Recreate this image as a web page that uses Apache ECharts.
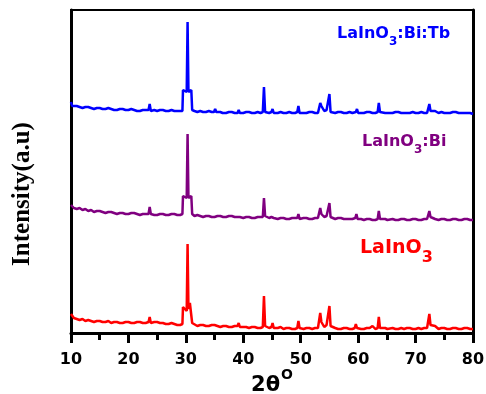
<!DOCTYPE html>
<html>
<head>
<meta charset="utf-8">
<script src="https://cdn.jsdelivr.net/npm/echarts@6/dist/echarts.min.js"></script>
<style>
  html, body { margin: 0; padding: 0; background: #fff; }
  #chart { width: 486px; height: 394px; }
</style>
</head>
<body>
<div id="chart"></div>
<script>
// 2θ tick labels
var xTicks = [10, 20, 30, 40, 50, 60, 70, 80]

// XRD patterns, [2θ, intensity a.u.]
var laino3 = [[10.0,15],[10.2,13],[10.5,11],[11,10],[11.5,9],[12,10],[12.5,8],[13,9],[13.5,8],[14,7],[14.5,8],[15,8],[15.5,7],[16,7],[16.5,8],[17,6],[17.5,7],[18,7],[18.5,6],[19,6],[19.5,7],[20,7],[20.5,6],[21,6],[21.5,7],[22,7],[22.5,6],[23,6],[23.5,7],[23.7,12],[23.9,6],[24.5,7],[25,7],[25.5,6],[26,6],[26.5,5],[27,5],[27.5,6],[28,5],[28.5,4],[29,4],[29.4,5],[29.5,22],[29.8,20],[30.15,18],[30.3,85],[30.45,20],[30.7,26],[30.95,24],[31.1,6],[31.4,4],[32,3],[32.5,4],[33,4],[33.5,3],[34,3],[34.5,4],[35,4],[35.5,3],[36,2],[36.5,3],[37,3],[37.5,2],[38,2],[38.5,3],[39,3],[39.2,6],[39.4,2],[40,2],[40.5,2],[41,1],[41.5,2],[42,2],[42.5,1],[43,1],[43.4,2],[43.6,33],[43.8,3],[44.5,1],[44.9,2],[45.1,6],[45.3,1],[46,1],[46.5,2],[47,0],[47.5,1],[48,1],[48.5,0],[49,0],[49.4,1],[49.6,8],[49.8,1],[50.5,0],[51,1],[51.5,1],[52,0],[52.5,1],[53,1],[53.2,2],[53.4,16],[53.6,7],[53.8,9],[54.1,2],[54.5,4],[54.8,5],[55.0,23],[55.2,3],[56,1],[56.5,0],[57,0],[57.5,1],[58,1],[58.5,0],[59,0],[59.4,1],[59.6,5],[59.8,1],[60.5,0],[61,0],[61.5,1],[62,1],[62.5,3],[63,0],[63.4,1],[63.6,12],[63.8,1],[64.7,1],[64.9,3],[65.1,0],[66,1],[66.5,0],[67,0],[67.5,1],[68,0],[68.5,1],[69,1],[69.5,0],[70,0],[70.5,1],[71,0],[71.5,1],[72,1],[72.2,2],[72.4,15],[72.6,4],[72.8,2],[73.4,3],[74,0],[74.5,1],[75,1],[75.5,0],[76,0],[76.5,1],[77,1],[77.5,0],[78,0],[78.5,1],[79,1],[79.5,0],[80,0]]

var laino3Bi = [[10.0,15],[10.2,13],[10.5,12],[11,11],[11.5,12],[12,10],[12.5,11],[13,9],[13.5,10],[14,8],[14.5,9],[15,9],[15.5,8],[16,7],[16.5,8],[17,8],[17.5,7],[18,6],[18.5,7],[19,7],[19.5,6],[20,6],[20.5,7],[21,7],[21.5,6],[22,5],[22.5,6],[23,6],[23.5,6],[23.7,13],[23.9,6],[24.5,5],[25,5],[25.5,6],[26,6],[26.5,5],[27,5],[27.5,6],[28,6],[28.5,5],[29,5],[29.4,6],[29.5,24],[29.8,23],[30.15,22],[30.3,86],[30.45,22],[30.7,23],[30.95,24],[31.1,6],[31.5,4],[32,5],[32.5,4],[33,3],[33.5,4],[34,4],[34.5,3],[35,3],[35.5,4],[36,4],[36.5,3],[37,3],[37.5,4],[38,4],[38.5,3],[39,3],[39.2,5],[39.4,3],[40,2],[40.5,3],[41,3],[41.5,2],[42,2],[42.5,3],[43,3],[43.4,3],[43.6,22],[43.8,4],[44.5,2],[44.9,3],[45.1,5],[45.3,2],[46,1],[46.5,2],[47,2],[47.5,1],[48,1],[48.5,2],[49,2],[49.4,2],[49.6,6],[49.8,1],[50.5,2],[51,2],[51.5,1],[52,1],[52.5,2],[53,2],[53.2,2],[53.4,12],[53.6,6],[53.8,7],[54.1,3],[54.5,4],[54.8,4],[55.0,17],[55.2,3],[56,1],[56.5,2],[57,2],[57.5,1],[58,1],[58.5,1],[59,1],[59.5,2],[59.7,6],[59.9,1],[60.5,1],[61,0],[61.5,1],[62,1],[62.5,0],[63,0],[63.4,1],[63.6,9],[63.8,1],[64.7,1],[64.9,2],[65.1,0],[66,1],[66.5,0],[67,0],[67.5,1],[68,1],[68.5,0],[69,0],[69.5,1],[70,1],[70.5,0],[71,0],[71.5,1],[72,1],[72.2,2],[72.4,9],[72.6,3],[72.8,2],[73.4,1],[74,0],[74.5,1],[75,1],[75.5,0],[76,0],[76.5,1],[77,1],[77.5,0],[78,0],[78.5,1],[79,1],[79.5,0],[80,0]]

var laino3BiTb = [[10.0,12],[10.2,8],[10.5,7],[11,8],[11.5,7],[12,6],[12.5,7],[13,7],[13.5,6],[14,5],[14.5,6],[15,6],[15.5,5],[16,5],[16.5,6],[17,5],[17.5,4],[18,4],[18.5,5],[19,5],[19.5,4],[20,4],[20.5,5],[21,4],[21.5,3],[22,3],[22.5,4],[23,4],[23.5,4],[23.7,10],[23.9,3],[24.5,4],[25,3],[25.5,4],[26,4],[26.5,3],[27,3],[27.5,4],[28,3],[28.5,3],[29,3],[29.4,3],[29.5,24],[29.8,22],[30.15,22],[30.3,92],[30.45,22],[30.7,22],[30.95,24],[31.1,4],[31.5,3],[32,2],[32.5,3],[33,2],[33.5,2],[34,3],[34.5,2],[34.9,2],[35.1,5],[35.3,2],[36,2],[36.2,3],[36.4,1],[37,1],[37.5,2],[38,2],[38.5,1],[39,1],[39.2,4],[39.4,1],[40,1],[40.5,2],[41,2],[41.5,1],[42,1],[42.5,2],[43,1],[43.4,2],[43.6,27],[43.8,2],[44.5,1],[44.9,2],[45.1,5],[45.3,1],[46,1],[46.5,2],[47,1],[47.5,1],[48,2],[48.5,1],[49,1],[49.4,2],[49.6,8],[49.8,1],[50.5,1],[51,1],[51.5,2],[52,2],[52.5,1],[53,1],[53.2,2],[53.4,11],[53.6,8],[53.8,10],[54.1,3],[54.5,4],[54.8,4],[55.0,20],[55.2,2],[56,1],[56.5,2],[57,2],[57.5,1],[58,1],[58.5,2],[59,1],[59.6,2],[59.8,5],[60.0,1],[60.5,1],[61,1],[61.5,2],[62,2],[62.5,1],[63,1],[63.4,2],[63.6,11],[63.8,2],[64.7,1],[64.9,2],[65.1,1],[66,1],[66.5,2],[67,2],[67.5,1],[68,1],[68.5,1],[69,1],[69.5,2],[70,1],[70.5,1],[71,2],[71.5,1],[72,1],[72.2,2],[72.4,10],[72.6,3],[72.8,2],[73.4,3],[73.6,1],[74,1],[74.5,2],[75,1],[75.5,1],[76,1],[76.5,2],[77,2],[77.5,1],[78,1],[78.5,1],[79,1],[79.5,1],[80,0]]

// vertical stacking offset of each pattern
var offsets = [4, 113, 219]

function shift (data, off) {
  return data.map(function (p) { return [p[0], p[1] + off] })
}

var chart = echarts.init(document.getElementById('chart'))
var font = '"DejaVu Sans", Verdana, sans-serif'

// sample label with a subscript 3
function label (x, y, text, color, big, sub, subDrop) {
  return {
    type: 'text',
    x: x,
    y: y,
    style: {
      text: text,
      verticalAlign: 'middle',
      rich: {
        a: { fontSize: big, fontWeight: 'bold', fontFamily: font, fill: color, lineHeight: big + 1, verticalAlign: 'top' },
        s: { fontSize: sub, fontWeight: 'bold', fontFamily: font, fill: color, lineHeight: big + 1 + subDrop, verticalAlign: 'bottom' }
      }
    }
  }
}

chart.setOption({
  animation: false,
  grid: {
    left: 71,
    right: 13,
    top: 10,
    bottom: 61,
    containLabel: false,
    outerBoundsMode: 'none',
    show: true,
    borderColor: '#000',
    borderWidth: 2
  },
  xAxis: {
    type: 'value',
    min: 10,
    max: 80,
    interval: 10,
    name: '{a|2θ}{s|O}',
    nameLocation: 'middle',
    nameGap: 35,
    nameMoveOverlap: false,
    nameTextStyle: {
      rich: {
        a: { fontSize: 21, fontWeight: 'bold', fontFamily: font, color: '#000', lineHeight: 28, verticalAlign: 'bottom' },
        s: { fontSize: 14, fontWeight: 'bold', fontFamily: font, color: '#000', lineHeight: 28, verticalAlign: 'top', padding: [0, 0, 0, 1] }
      }
    },
    axisLine: { lineStyle: { color: '#000', width: 3 } },
    axisTick: { length: 10, lineStyle: { color: '#000', width: 3 } },
    minorTick: { show: true, splitNumber: 2, length: 7, lineStyle: { color: '#000', width: 3 } },
    axisLabel: {
      margin: 19,
      color: '#000',
      fontSize: 16,
      fontWeight: 'bold',
      fontFamily: font,
      customValues: xTicks
    },
    splitLine: { show: false }
  },
  yAxis: [
    {
      type: 'value',
      min: 0,
      max: 323,
      axisLine: { show: true, lineStyle: { color: '#000', width: 3 } },
      axisTick: { show: false },
      axisLabel: { show: false },
      splitLine: { show: false }
    },
    {
      type: 'value',
      position: 'right',
      min: 0,
      max: 323,
      axisLine: { show: true, lineStyle: { color: '#000', width: 3 } },
      axisTick: { show: false },
      axisLabel: { show: false },
      splitLine: { show: false }
    }
  ],
  series: [
    {
      name: 'LaInO3',
      type: 'line',
      showSymbol: false,
      data: shift(laino3, offsets[0]),
      lineStyle: { color: '#ff0000', width: 2.5 }
    },
    {
      name: 'LaInO3:Bi',
      type: 'line',
      showSymbol: false,
      data: shift(laino3Bi, offsets[1]),
      lineStyle: { color: '#800080', width: 2.5 }
    },
    {
      name: 'LaInO3:Bi:Tb',
      type: 'line',
      showSymbol: false,
      data: shift(laino3BiTb, offsets[2]),
      lineStyle: { color: '#0000ff', width: 2.5 }
    }
  ],
  graphic: [
    {
      type: 'text',
      x: 23,
      y: 194,
      rotation: Math.PI / 2,
      style: {
        text: 'Intensity(a.u)',
        fill: '#000',
        font: 'bold 25px "Liberation Serif", "Times New Roman", serif',
        align: 'center',
        verticalAlign: 'middle'
      }
    },
    label(337, 37, '{a|LaInO}{s|3}{a|:Bi:Tb}', '#0000ff', 16, 12, 5),
    label(362, 145, '{a|LaInO}{s|3}{a|:Bi}', '#800080', 16, 12, 5),
    label(360, 252, '{a|LaInO}{s|3}', '#ff0000', 19, 16, 7)
  ]
})
</script>
</body>
</html>
